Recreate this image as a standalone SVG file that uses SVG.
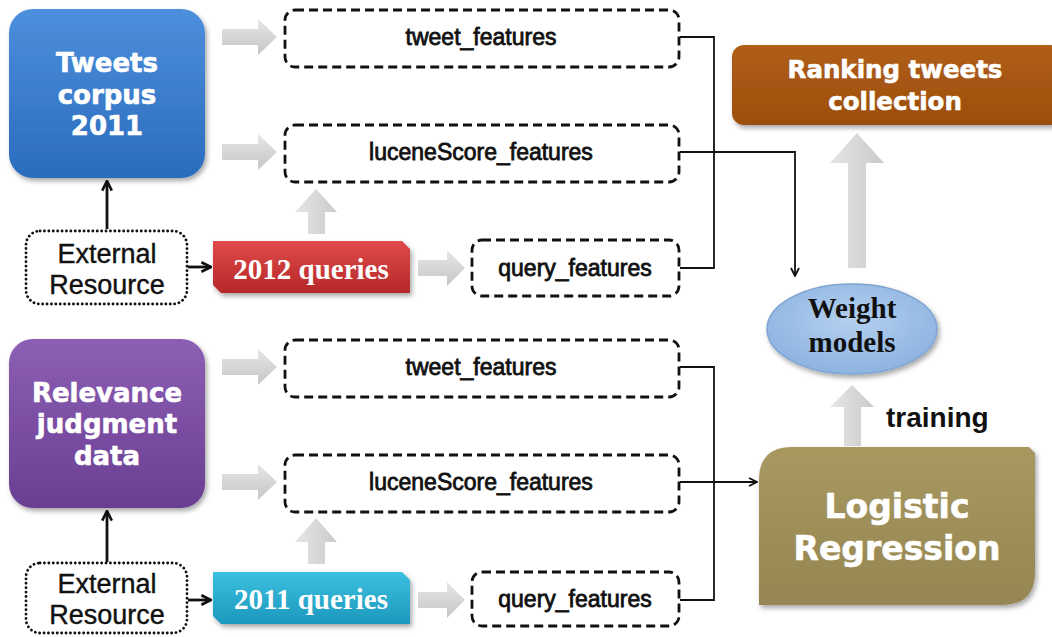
<svg xmlns="http://www.w3.org/2000/svg" width="1052" height="637" viewBox="0 0 1052 637">
<style>
.title{font-family:"DejaVu Sans",Verdana,sans-serif;font-weight:bold;fill:#fff;stroke:#fff;stroke-width:0.6;text-anchor:middle}
.feat{font-family:"Liberation Sans",Arial,sans-serif;font-size:23px;fill:#111;stroke:#111;stroke-width:0.8;text-anchor:middle}
.ext{font-family:"Liberation Sans",Arial,sans-serif;font-size:27px;fill:#111;stroke:#111;stroke-width:0.4;text-anchor:middle}
.serif{font-family:"Liberation Serif","Times New Roman",serif;font-weight:bold;text-anchor:middle}
.dash{fill:#fff;stroke:#111;stroke-width:2.8;stroke-dasharray:9 5}
.dot{fill:#fff;stroke:#111;stroke-width:2.8;stroke-dasharray:0.1 4.3;stroke-linecap:round}
.conn{fill:none;stroke:#111;stroke-width:1.8}
.conn2{fill:none;stroke:#111;stroke-width:2.8}
.garrow{fill:url(#gGrey)}
</style>
<defs>
<linearGradient id="gBlue" x1="0" y1="0" x2="0" y2="1"><stop offset="0" stop-color="#4d8fdc"/><stop offset="1" stop-color="#2a6cbd"/></linearGradient>
<linearGradient id="gPurple" x1="0" y1="0" x2="0" y2="1"><stop offset="0" stop-color="#8c5fb4"/><stop offset="1" stop-color="#6a3e92"/></linearGradient>
<linearGradient id="gBrown" x1="0" y1="0" x2="0" y2="1"><stop offset="0" stop-color="#b05e17"/><stop offset="1" stop-color="#9c4e0d"/></linearGradient>
<linearGradient id="gOlive" x1="0" y1="0" x2="0" y2="1"><stop offset="0" stop-color="#a89860"/><stop offset="1" stop-color="#958653"/></linearGradient>
<linearGradient id="gRed" x1="0" y1="0" x2="0" y2="1"><stop offset="0" stop-color="#e04a4a"/><stop offset="1" stop-color="#b62828"/></linearGradient>
<linearGradient id="gCyan" x1="0" y1="0" x2="0" y2="1"><stop offset="0" stop-color="#3cc0e0"/><stop offset="1" stop-color="#1c98bd"/></linearGradient>
<radialGradient id="gEll" cx="0.5" cy="0.4" r="0.6"><stop offset="0" stop-color="#b4d0ef"/><stop offset="1" stop-color="#8db3e0"/></radialGradient>
<linearGradient id="gGrey" x1="0" y1="0" x2="0" y2="1"><stop offset="0" stop-color="#e6e6e6"/><stop offset="1" stop-color="#c6c6c6"/></linearGradient>
<linearGradient id="gGreyV" x1="0" y1="0" x2="1" y2="0"><stop offset="0" stop-color="#e6e6e6"/><stop offset="1" stop-color="#cacaca"/></linearGradient>
<filter id="sh" x="-10%" y="-10%" width="125%" height="130%"><feDropShadow dx="2" dy="3" stdDeviation="2.5" flood-color="#000" flood-opacity="0.35"/></filter>
<marker id="ah" viewBox="0 0 10 10" refX="9" refY="5" markerWidth="10" markerHeight="10" markerUnits="userSpaceOnUse" orient="auto"><path d="M1,1 L9,5 L1,9" fill="none" stroke="#111" stroke-width="1.8"/></marker>
<marker id="ah2" viewBox="0 0 10 10" refX="9" refY="5" markerWidth="12" markerHeight="12" markerUnits="userSpaceOnUse" orient="auto"><path d="M1,1 L9,5 L1,9" fill="none" stroke="#111" stroke-width="2.2"/></marker>
</defs>

<g id="grey-arrows">
<path class="garrow" d="M222,29 H258 V19 L277,37 L258,55 V45 H222 Z"/>
<path class="garrow" d="M222,144 H258 V134 L277,152 L258,170 V160 H222 Z"/>
<path class="garrow" d="M418,260 H447 V250 L465,268 L447,286 V276 H418 Z"/>
<path class="garrow" d="M222,359 H258 V349 L277,367 L258,385 V375 H222 Z"/>
<path class="garrow" d="M222,474 H258 V464 L277,482 L258,500 V490 H222 Z"/>
<path class="garrow" d="M418,592 H447 V582 L465,600 L447,618 V608 H418 Z"/>
<path fill="url(#gGreyV)" d="M308,234 V212 H295 L316,189 L337,212 H325 V234 Z"/>
<path fill="url(#gGreyV)" d="M308,564 V542 H295 L316,518 L337,542 H325 V564 Z"/>
<path fill="url(#gGreyV)" d="M848,268 V163 H830 L857,133 L884,163 H866 V268 Z"/>
<path fill="url(#gGreyV)" d="M844,446 V407 H830 L852,385 L874,407 H861 V446 Z"/>
</g>

<g id="connectors">
<path class="conn" d="M680,37 H714 V268 H680"/>
<path class="conn" d="M680,152 H795 V276" marker-end="url(#ah)"/>
<path class="conn" d="M680,367 H714 V600 H680"/>
<path class="conn" d="M680,482 H757" marker-end="url(#ah)"/>
<path class="conn2" d="M107,229 V181" marker-end="url(#ah2)"/>
<path class="conn2" d="M188,267 H211" marker-end="url(#ah2)"/>
<path class="conn2" d="M107,562 V511" marker-end="url(#ah2)"/>
<path class="conn2" d="M188,600 H211" marker-end="url(#ah2)"/>
</g>

<g id="tweets-corpus">
<rect x="9" y="9" width="196" height="169" rx="24" fill="url(#gBlue)" filter="url(#sh)"/>
<text class="title" font-size="26"><tspan x="107" y="72">Tweets</tspan><tspan x="107" y="104">corpus</tspan><tspan x="107" y="135">2011</tspan></text>
</g>

<g id="relevance">
<rect x="9" y="339" width="196" height="169" rx="24" fill="url(#gPurple)" filter="url(#sh)"/>
<text class="title" font-size="26"><tspan x="107" y="402">Relevance</tspan><tspan x="107" y="433">judgment</tspan><tspan x="107" y="465">data</tspan></text>
</g>

<g id="ext1">
<rect class="dot" x="26" y="231" width="161" height="73" rx="14"/>
<text class="ext"><tspan x="107" y="263">External</tspan><tspan x="107" y="294">Resource</tspan></text>
</g>

<g id="ext2">
<rect class="dot" x="26" y="563" width="161" height="70" rx="14"/>
<text class="ext"><tspan x="107" y="593">External</tspan><tspan x="107" y="624">Resource</tspan></text>
</g>

<g id="q2012">
<path d="M213,241 H402 L410,249 V293 H221 L213,285 Z" fill="url(#gRed)" filter="url(#sh)"/>
<text class="serif" x="311" y="279" font-size="29" fill="#fff">2012 queries</text>
</g>

<g id="q2011">
<path d="M213,572 H402 L410,580 V624 H221 L213,616 Z" fill="url(#gCyan)" filter="url(#sh)"/>
<text class="serif" x="311" y="609" font-size="29" fill="#fff">2011 queries</text>
</g>

<g id="tf1"><rect class="dash" x="285" y="10" width="394" height="57" rx="10"/><text class="feat" x="481" y="45">tweet_features</text></g>
<g id="lf1"><rect class="dash" x="285" y="125" width="394" height="57" rx="10"/><text class="feat" x="481" y="160">luceneScore_features</text></g>
<g id="qf1"><rect class="dash" x="472" y="240" width="207" height="56" rx="10"/><text class="feat" x="575" y="276">query_features</text></g>
<g id="tf2"><rect class="dash" x="285" y="340" width="394" height="57" rx="10"/><text class="feat" x="481" y="375">tweet_features</text></g>
<g id="lf2"><rect class="dash" x="285" y="455" width="394" height="57" rx="10"/><text class="feat" x="481" y="490">luceneScore_features</text></g>
<g id="qf2"><rect class="dash" x="472" y="572" width="207" height="54" rx="10"/><text class="feat" x="575" y="607">query_features</text></g>

<g id="ranking">
<rect x="732" y="45" width="330" height="80" rx="12" fill="url(#gBrown)" filter="url(#sh)"/>
<text class="title" font-size="24.5"><tspan x="895" y="78">Ranking tweets</tspan><tspan x="895" y="110">collection</tspan></text>
</g>

<g id="weight">
<ellipse cx="852" cy="329" rx="85" ry="45" fill="url(#gEll)" stroke="#7ea4d2" stroke-width="1.5" filter="url(#sh)"/>
<text class="serif" font-size="29" fill="#111"><tspan x="852" y="318">Weight</tspan><tspan x="852" y="352">models</tspan></text>
</g>

<g id="training-label">
<text x="886" y="427" font-family="Liberation Sans,Arial,sans-serif" font-weight="bold" font-size="28" fill="#111">training</text>
</g>

<g id="logistic">
<path d="M792,447 H1029 L1035,453 V572 Q1035,605 1002,605 H759 V480 Q759,447 792,447 Z" fill="url(#gOlive)" filter="url(#sh)"/>
<text class="title" font-size="33"><tspan x="897" y="518">Logistic</tspan><tspan x="897" y="560">Regression</tspan></text>
</g>
</svg>
